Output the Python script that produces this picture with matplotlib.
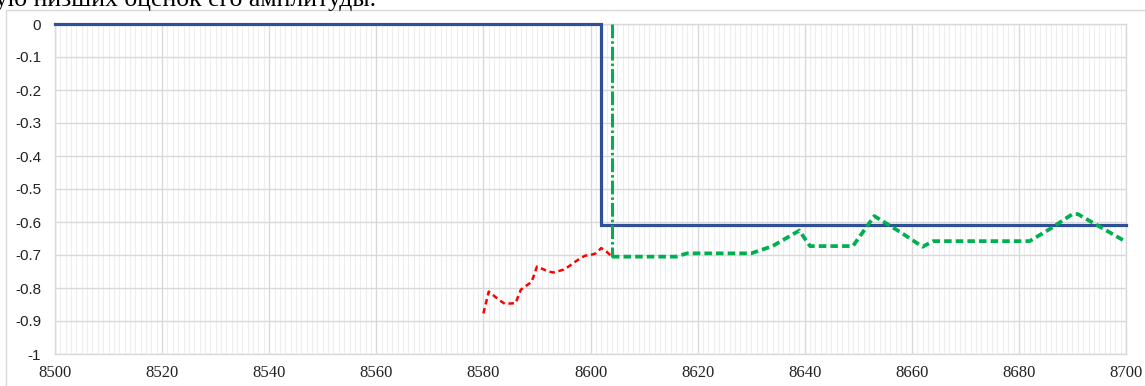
import matplotlib
matplotlib.use("Agg")
import matplotlib.pyplot as plt
from matplotlib.ticker import MultipleLocator
from matplotlib.patches import Rectangle

# ---- data ----
step_x = [8500, 8602, 8602, 8700]
step_y = [0.0, 0.0, -0.61, -0.61]

marker_x = [8604, 8604]
marker_y = [0.0, -0.705]

red_x = [8580, 8581, 8582, 8583, 8584, 8585, 8586, 8587, 8588, 8589, 8590,
         8591, 8592, 8593, 8594, 8595, 8596, 8597, 8598, 8599, 8600, 8601,
         8602, 8603, 8604]
red_y = [-0.877, -0.811, -0.824, -0.837, -0.848, -0.847, -0.846, -0.805,
         -0.793, -0.782, -0.735, -0.742, -0.749, -0.753, -0.749, -0.744,
         -0.734, -0.722, -0.711, -0.702, -0.700, -0.695, -0.679, -0.690,
         -0.705]

green_x = [8604, 8616, 8618, 8630, 8634, 8639, 8641, 8649, 8653, 8658,
           8662, 8664, 8682, 8686, 8690, 8691, 8694, 8700]
green_y = [-0.705, -0.705, -0.695, -0.695, -0.673, -0.626, -0.673, -0.673,
           -0.582, -0.632, -0.675, -0.658, -0.658, -0.619, -0.576, -0.576,
           -0.604, -0.660]

x_ticks = [8500, 8520, 8540, 8560, 8580, 8600, 8620, 8640, 8660, 8680, 8700]
y_ticks = [0, -0.1, -0.2, -0.3, -0.4, -0.5, -0.6, -0.7, -0.8, -0.9, -1]
y_labels = ["0", "-0.1", "-0.2", "-0.3", "-0.4", "-0.5", "-0.6", "-0.7",
            "-0.8", "-0.9", "-1"]

caption = "ую низших оценок его амплитуды."

# ---- figure ----
W, H = 1145, 386
fig = plt.figure(figsize=(W / 100, H / 100), dpi=100)
ax = fig.add_axes([55 / W, (H - 354) / H, (1126 - 55) / W, (354 - 24) / H])

# chart area border (extends past the right/bottom edges)
fig.patches.append(Rectangle((5.5 / W, -0.1), 1.2, (H - 9.5) / H + 0.1,
                             transform=fig.transFigure, fill=False,
                             edgecolor="#D9D9D9", linewidth=1.0))

# cropped document text above the chart (only its lower part shows)
fig.text(-5 / W, (H - 6) / H, caption, family="Liberation Serif",
         fontsize=18.5, color="black", ha="left", va="baseline")

ax.set_xlim(8500, 8700)
ax.set_ylim(-1, 0)

ax.xaxis.set_minor_locator(MultipleLocator(1))
ax.set_xticks(x_ticks)
ax.set_yticks(y_ticks)
ax.set_yticklabels(y_labels)
ax.grid(which="major", axis="both", color="#D9D9D9", linewidth=1.0, zorder=0)
ax.grid(which="minor", axis="x", color="#EEEEEE", linewidth=0.8, zorder=0)
ax.set_axisbelow(True)

for s in ax.spines.values():
    s.set_color("#D9D9D9")
    s.set_linewidth(1.0)

ax.tick_params(which="both", length=0)
ax.tick_params(axis="x", pad=8)
ax.tick_params(axis="y", pad=10)
for lab in ax.get_xticklabels():
    lab.set_fontfamily("Liberation Serif")
    lab.set_fontsize(12)
    lab.set_color("#222222")
for lab in ax.get_yticklabels():
    lab.set_fontfamily("Liberation Sans")
    lab.set_fontsize(11)
    lab.set_color("#222222")

ax.plot(step_x, step_y, color="#2F4F96", linewidth=2.3, clip_on=False,
        zorder=3, solid_joinstyle="miter")
ax.plot(red_x, red_y, color="#FF0000", linewidth=1.8, dashes=(2.2, 1.5),
        zorder=4)
ax.plot(green_x, green_y, color="#00B050", linewidth=2.7, dashes=(2.0, 1.1),
        zorder=4)
ax.plot(marker_x, marker_y, color="#00B050", linewidth=2.2,
        dashes=(4.5, 1.0, 0.8, 1.0), zorder=5, clip_on=False)

fig.savefig("out.png", dpi=100)
